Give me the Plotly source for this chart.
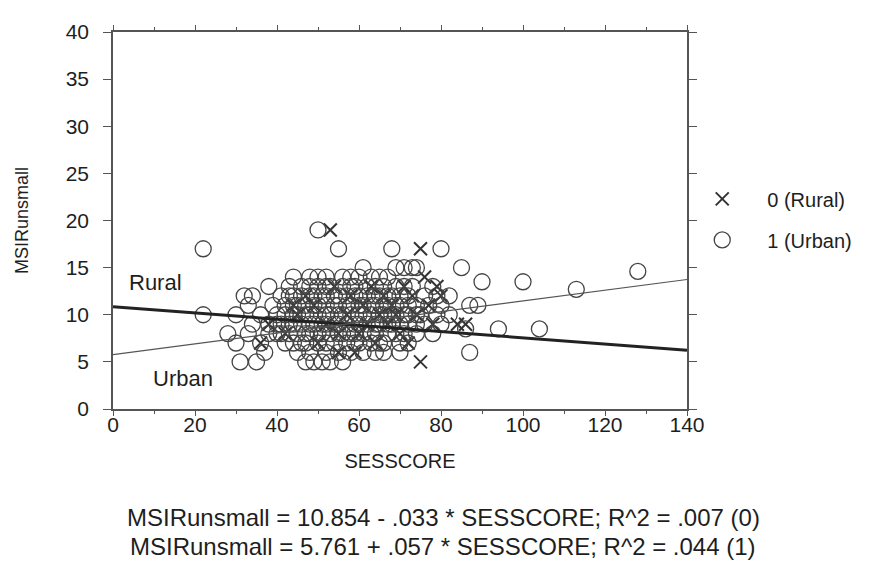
import plotly.graph_objects as go

# ---------------------------------------------------------------- DATA ---- #
# urban (1) cases, open circles
urban_x = [31, 35, 47, 49, 51, 53, 56,
           37, 45, 52, 58, 64, 70, 87, 48, 55, 61, 66,
           30, 36, 42, 44, 47, 50, 54, 57, 60, 63, 66, 70, 72, 46, 52, 59, 65,
           28, 33, 38, 40, 43, 45, 48, 51, 53, 56, 59, 61, 64, 67, 71, 74, 78,
           41, 47, 50, 55, 58, 63, 69,
           34, 38, 41, 43, 46, 49, 52, 55, 57, 60, 62, 65, 68, 72, 76, 80, 86, 94, 104,
           40, 44, 48, 51, 54, 59, 64, 67, 70, 74,
           22, 30, 36, 40, 42, 45, 48, 50, 53, 56, 58, 61, 63, 66, 69, 72, 75, 79, 82,
           44, 47, 52, 55, 60, 65, 68, 71, 74,
           33, 39, 42, 45, 47, 50, 52, 55, 58, 61, 64, 67, 70, 74, 77, 80, 87, 89,
           44, 49, 54, 57, 60, 63, 66, 69, 72,
           32, 34, 41, 44, 46, 49, 52, 55, 57, 60, 62, 65, 68, 72, 76, 79, 82,
           43, 48, 51, 54, 59, 64, 67, 70,
           38, 43, 46, 50, 53, 56, 59, 62, 66, 69, 73, 78, 90, 100, 113,
           48, 52, 58, 64, 71,
           44, 48, 52, 56, 60, 63, 67, 50, 58, 65,
           61, 69, 71, 73, 74, 85, 128,
           22, 55, 68, 80,
           50]
urban_y = [5, 5, 5, 5, 5, 5, 5,
           6, 6, 6, 6, 6, 6, 6, 6, 6, 6, 6,
           7, 7, 7, 7, 7, 7, 7, 7, 7, 7, 7, 7, 7, 7, 7, 7, 7,
           8, 8, 8, 8, 8, 8, 8, 8, 8, 8, 8, 8, 8, 8, 8, 8, 8,
           8, 8, 8, 8, 8, 8, 8,
           9, 9, 9, 9, 9, 9, 9, 9, 9, 9, 9, 9, 9, 9, 9, 9, 8.5, 8.5, 8.5,
           9, 9, 9, 9, 9, 9, 9, 9, 9, 9,
           10, 10, 10, 10, 10, 10, 10, 10, 10, 10, 10, 10, 10, 10, 10, 10, 10, 10, 10,
           10, 10, 10, 10, 10, 10, 10, 10, 10,
           11, 11, 11, 11, 11, 11, 11, 11, 11, 11, 11, 11, 11, 11, 11, 11, 11, 11,
           11, 11, 11, 11, 11, 11, 11, 11, 11,
           12, 12, 12, 12, 12, 12, 12, 12, 12, 12, 12, 12, 12, 12, 12, 12, 12,
           12, 12, 12, 12, 12, 12, 12, 12,
           13, 13, 13, 13, 13, 13, 13, 13, 13, 13, 13, 13, 13.5, 13.5, 12.7,
           13, 13, 13, 13, 13,
           14, 14, 14, 14, 14, 14, 14, 14, 14, 14,
           15, 15, 15, 15, 15, 15, 14.6,
           17, 17, 17, 17,
           19]

# rural (0) cases, crosses
rural_x = [53, 75, 75, 36, 38, 42, 45, 47, 49, 50, 52, 54, 55, 57, 58, 60, 61, 62, 63, 64,
           65, 66, 67, 68, 70, 71, 72, 73, 74, 76, 77, 78, 79, 80, 84, 86, 55, 59, 44, 69]
rural_y = [19, 17, 5, 7, 9, 8, 10, 12, 11, 7, 9, 13, 6, 10, 12, 8, 11, 9, 13, 7,
           10, 12, 9, 11, 8, 13, 7, 12, 10, 14, 11, 9, 13, 12, 9, 9, 8, 6, 11, 10]

# fitted lines (intercept, slope) from the caption
fit_rural = (10.854, -0.033)
fit_urban = (5.761, 0.057)
line_x = [0, 140]

eq_lines = ['MSIRunsmall = 10.854 - .033 * SESSCORE; R^2 = .007 (0)',
            'MSIRunsmall = 5.761 + .057 * SESSCORE; R^2 = .044 (1)']

# ---------------------------------------------------------------- FIGURE -- #
ink = '#333333'
txt_col = '#1e1e1e'
font_main = 'Liberation Sans'

fig = go.Figure()

fig.add_trace(go.Scatter(
    x=rural_x, y=rural_y, mode='markers', name='0 (Rural)',
    legendgroup='r',
    marker=dict(symbol='x-thin-open', size=13, color=ink, line=dict(color=ink, width=2)),
))
fig.add_trace(go.Scatter(
    x=urban_x, y=urban_y, mode='markers', name='1 (Urban)',
    legendgroup='u',
    marker=dict(symbol='circle-open', size=16, color='#444444', line=dict(width=1.3)),
))

# regression lines
fig.add_trace(go.Scatter(
    x=line_x, y=[fit_rural[0] + fit_rural[1] * v for v in line_x],
    mode='lines', line=dict(color='#222222', width=3), showlegend=False, hoverinfo='skip'))
fig.add_trace(go.Scatter(
    x=line_x, y=[fit_urban[0] + fit_urban[1] * v for v in line_x],
    mode='lines', line=dict(color='#555555', width=1.2), showlegend=False, hoverinfo='skip'))

fig.add_annotation(x=3.5, y=13.4, text='Rural', showarrow=False, xanchor='left',
                   font=dict(size=22, color=txt_col))
fig.add_annotation(x=9.3, y=3.2, text='Urban', showarrow=False, xanchor='left',
                   font=dict(size=22, color=txt_col))

# regression equations below the chart
for i, txt in enumerate(eq_lines):
    fig.add_annotation(x=0.575, y=-0.289 - 0.076 * i, xref='paper', yref='paper',
                       text=txt, showarrow=False, xanchor='center', yanchor='middle',
                       font=dict(size=24, color=txt_col))

axis_common = dict(
    showgrid=False, zeroline=False, showline=True, linecolor='#555555', linewidth=1.5,
    mirror='ticks', ticks='outside', tickwidth=1.3, tickcolor='#555555',
    tickfont=dict(size=21, color=txt_col, family=font_main),
)

fig.update_xaxes(range=[0, 140], dtick=20, tick0=0, ticklen=5, ticklabelstandoff=-9,
                 minor=dict(dtick=10, ticks='outside', ticklen=3, tickcolor='#555555'),
                 title=dict(text='SESSCORE', standoff=19,
                            font=dict(size=20, family=font_main, color=txt_col)),
                 **axis_common)
fig.update_yaxes(range=[0, 40], dtick=5, tick0=0, ticklen=8, ticklabelstandoff=10,
                 title=dict(text='MSIRunsmall', standoff=32,
                            font=dict(size=18, family=font_main, color=txt_col)),
                 **axis_common)

fig.update_layout(
    width=878, height=575,
    margin=dict(l=105, r=199, t=17, b=174),
    paper_bgcolor='white', plot_bgcolor='white',
    font=dict(family=font_main, color=txt_col),
    showlegend=True,
    legend=dict(x=0.983, y=0.609, xanchor='left', yanchor='top',
                font=dict(size=20, color=txt_col), itemwidth=80,
                tracegroupgap=12, bgcolor='rgba(0,0,0,0)'),
)

fig.write_html('out.html')
